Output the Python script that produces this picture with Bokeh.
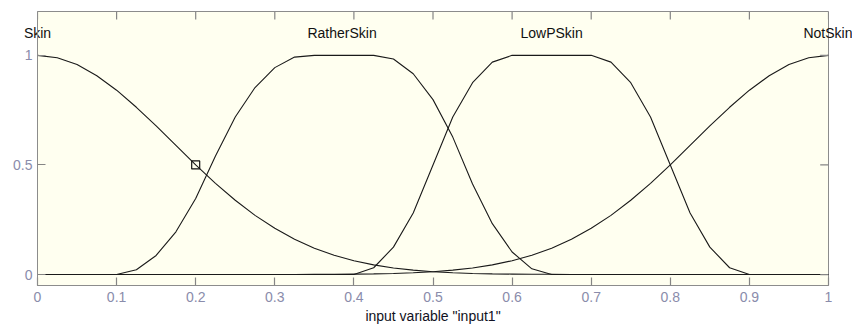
from bokeh.plotting import figure
from bokeh.models import Range1d, FixedTicker, LinearAxis
from bokeh.embed import file_html
from bokeh.resources import INLINE

# ---- data ----
x_grid = [round(i * 0.025, 3) for i in range(41)]

skin = [1.000, 0.989, 0.958, 0.907, 0.841, 0.763, 0.678, 0.589, 0.500, 0.416,
        0.339, 0.270, 0.211, 0.161, 0.120, 0.088, 0.063, 0.044, 0.030, 0.020,
        0.013, 0.008, 0.005, 0.003, 0.002, 0.001, 0.001, 0, 0, 0,
        0, 0, 0, 0, 0, 0, 0, 0, 0, 0, 0]

rather_skin = [0, 0, 0, 0, 0, 0.022, 0.087, 0.195, 0.347, 0.541,
               0.719, 0.853, 0.944, 0.992, 1, 1, 1, 1, 0.983, 0.916,
               0.798, 0.627, 0.413, 0.232, 0.103, 0.026, 0, 0, 0, 0,
               0, 0, 0, 0, 0, 0, 0, 0, 0, 0, 0]

low_p_skin = [0, 0, 0, 0, 0, 0, 0, 0, 0, 0,
              0, 0, 0, 0, 0, 0, 0, 0.031, 0.125, 0.281,
              0.500, 0.719, 0.875, 0.969, 1, 1, 1, 1, 1, 0.969,
              0.875, 0.719, 0.500, 0.281, 0.125, 0.031, 0, 0, 0, 0, 0]

not_skin = [0, 0, 0, 0, 0, 0, 0, 0, 0, 0,
            0, 0, 0, 0, 0.001, 0.001, 0.002, 0.003, 0.005, 0.008,
            0.013, 0.020, 0.030, 0.044, 0.063, 0.088, 0.120, 0.161, 0.211, 0.270,
            0.339, 0.416, 0.500, 0.589, 0.678, 0.763, 0.841, 0.907, 0.958, 0.989, 1.000]

mf_names = ["Skin", "RatherSkin", "LowPSkin", "NotSkin"]
mf_label_x = [0.0, 0.385, 0.65, 1.0]

marker_x = [0.2]
marker_y = [0.5]

x_ticks = [0, 0.1, 0.2, 0.3, 0.4, 0.5, 0.6, 0.7, 0.8, 0.9, 1]
x_tick_labels = ["0", "0.1", "0.2", "0.3", "0.4", "0.5", "0.6", "0.7", "0.8", "0.9", "1"]
y_ticks = [0, 0.5, 1]
y_tick_labels = ["0", "0.5", "1"]
x_label = 'input variable "input1"'

X_MIN, X_MAX = 0, 1
Y_MIN, Y_MAX = -0.05, 1.2

# ---- styling ----
FONT = "Liberation Sans"
AX = "#8c8c8c"
TICK = "#858585"
TICKLBL = "#8a8cab"
CURVE = "#1a1a1a"
TICK_LEN_Y = 0.037   # ~8px in y data units
TICK_LEN_X = 0.0105  # ~8px in x data units

p = figure(width=852, height=328, output_backend="svg", toolbar_location=None,
           x_range=Range1d(X_MIN, X_MAX), y_range=Range1d(Y_MIN, Y_MAX),
           min_border_left=37, min_border_right=24, min_border_top=11, min_border_bottom=43)
p.background_fill_color = "#FFFFF0"
p.border_fill_color = "white"
p.outline_line_color = AX
p.grid.visible = False

for ys in (skin, rather_skin, low_p_skin, not_skin):
    p.line(x_grid, ys, line_color=CURVE, line_width=1.1)

p.scatter(marker_x, marker_y, marker="square", size=8, fill_color=None,
          line_color="#111111", line_width=1.2)

# mirrored inward ticks on the top and right edges
p.segment(x0=x_ticks, y0=[Y_MAX] * len(x_ticks), x1=x_ticks,
          y1=[Y_MAX - TICK_LEN_Y] * len(x_ticks), line_color=TICK, line_width=1.2)
p.segment(x0=[X_MAX] * len(y_ticks), y0=y_ticks, x1=[X_MAX - TICK_LEN_X] * len(y_ticks),
          y1=y_ticks, line_color=TICK, line_width=1.2)

def style_axis(ax, ticks, labels):
    ax.ticker = FixedTicker(ticks=ticks)
    ax.major_label_overrides = {t: l for t, l in zip(ticks, labels)}
    ax.major_tick_in = 8
    ax.major_tick_out = 0
    ax.minor_tick_line_color = None
    ax.axis_line_color = AX
    ax.major_tick_line_color = TICK
    ax.major_tick_line_width = 1.2
    ax.major_label_text_font = FONT
    ax.major_label_text_color = TICKLBL
    ax.major_label_text_font_size = "14px"

style_axis(p.xaxis[0], x_ticks, x_tick_labels)
p.xaxis[0].major_label_standoff = 6
p.xaxis[0].axis_label = x_label
p.xaxis[0].axis_label_standoff = 3
p.xaxis[0].axis_label_text_font = FONT
p.xaxis[0].axis_label_text_font_size = "14px"
p.xaxis[0].axis_label_text_font_style = "normal"
p.xaxis[0].axis_label_text_color = "#111122"

style_axis(p.yaxis[0], y_ticks, y_tick_labels)
p.yaxis[0].major_label_standoff = 5

# membership-function names, placed by an extra top axis (labels drawn inside the box)
names_axis = LinearAxis(ticker=FixedTicker(ticks=mf_label_x),
                        major_label_overrides={t: n for t, n in zip(mf_label_x, mf_names)})
names_axis.axis_line_color = None
names_axis.major_tick_line_color = None
names_axis.minor_tick_line_color = None
names_axis.major_tick_in = 0
names_axis.major_tick_out = 0
names_axis.major_label_standoff = -29
names_axis.major_label_text_font = FONT
names_axis.major_label_text_font_size = "14px"
names_axis.major_label_text_color = "#111111"
p.add_layout(names_axis, "above")

open("out.html", "w").write(file_html(p, INLINE))
